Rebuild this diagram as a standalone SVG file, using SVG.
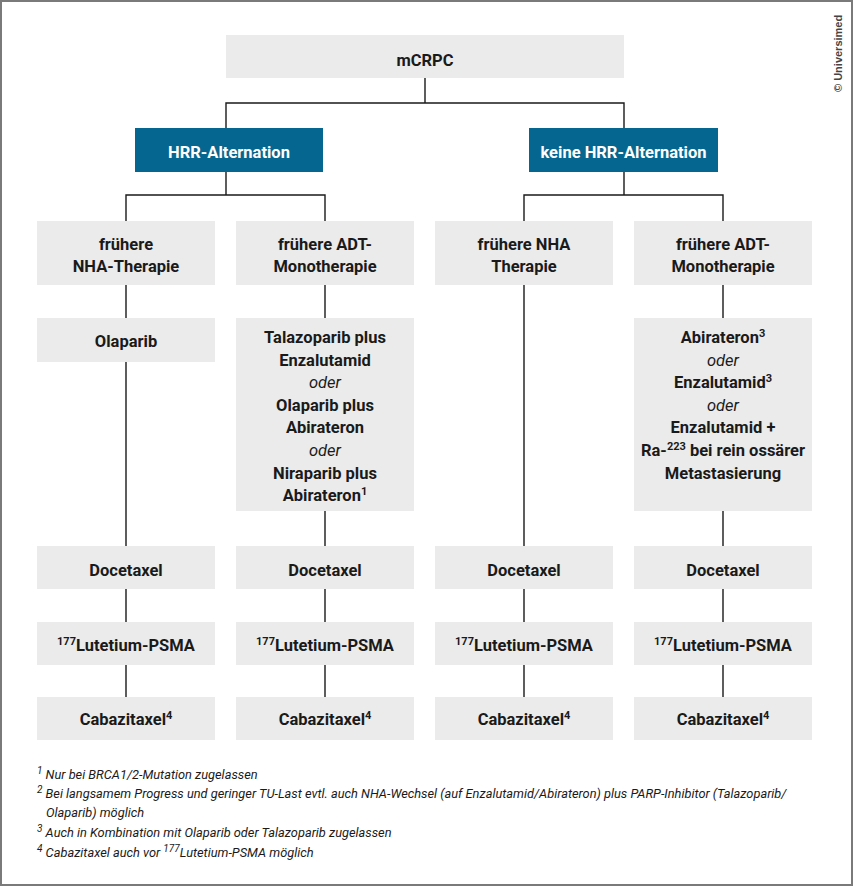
<svg xmlns="http://www.w3.org/2000/svg" width="854" height="888" viewBox="0 0 854 888">
<style>
.box{fill:#ebebeb}
.blue{fill:#05668f}
.t{font-family:Roboto,"Liberation Sans",sans-serif;font-weight:bold;font-size:16.5px;fill:#1a1a1a;text-anchor:middle}
.w{fill:#ffffff}
.i{font-weight:normal;font-style:italic}
.fn{font-family:Roboto,"Liberation Sans",sans-serif;font-style:italic;font-size:12.8px;fill:#1a1a1a}
.con{fill:none;stroke:#1a1a1a;stroke-width:1.4}
</style>
<rect x="1" y="1" width="851" height="884" fill="#ffffff" stroke="#7a7a7a" stroke-width="2"/>
<text transform="translate(842,92) rotate(-90)" font-family="'Liberation Sans',Arial,sans-serif" font-size="11" font-weight="bold" fill="#444">© Universimed</text>

<g id="connectors" class="con">
<path d="M425 78 V103 M226 128 V103 H624 V128"/>
<path d="M226 172 V195 M126 221 V195 H325 V221"/>
<path d="M624 172 V195 M524 221 V195 H723 V221"/>
<path d="M126 285 V318 M126 362 V546 M126 589 V622 M126 665 V697"/>
<path d="M325 285 V318 M325 511 V546 M325 589 V622 M325 665 V697"/>
<path d="M524 285 V546 M524 589 V622 M524 665 V697"/>
<path d="M723 285 V318 M723 511 V546 M723 589 V622 M723 665 V697"/>
</g>

<g id="mcrpc"><rect class="box" x="226" y="35" width="398" height="43"/><text class="t" x="425" y="66">mCRPC</text></g>
<g id="hrr"><rect class="blue" x="135" y="128" width="188" height="44"/><text class="t w" x="229" y="158">HRR-Alternation</text></g>
<g id="keine-hrr"><rect class="blue" x="529" y="128" width="189" height="44"/><text class="t w" x="623.5" y="158">keine HRR-Alternation</text></g>

<g id="c1-prior"><rect class="box" x="37" y="221" width="178" height="64"/><text class="t" x="126" y="250">frühere</text><text class="t" x="126" y="272">NHA-Therapie</text></g>
<g id="c2-prior"><rect class="box" x="236" y="221" width="178" height="64"/><text class="t" x="325" y="250">frühere ADT-</text><text class="t" x="325" y="272">Monotherapie</text></g>
<g id="c3-prior"><rect class="box" x="435" y="221" width="178" height="64"/><text class="t" x="524" y="250">frühere NHA</text><text class="t" x="524" y="272">Therapie</text></g>
<g id="c4-prior"><rect class="box" x="634" y="221" width="178" height="64"/><text class="t" x="723" y="250">frühere ADT-</text><text class="t" x="723" y="272">Monotherapie</text></g>

<g id="c1-therapy"><rect class="box" x="37" y="318" width="178" height="44"/><text class="t" x="126" y="347">Olaparib</text></g>
<g id="c2-therapy"><rect class="box" x="236" y="318" width="178" height="193"/>
<text class="t" x="325" y="343">Talazoparib plus</text>
<text class="t" x="325" y="365.6">Enzalutamid</text>
<text class="t i" x="325" y="388.2">oder</text>
<text class="t" x="325" y="410.8">Olaparib plus</text>
<text class="t" x="325" y="433.4">Abirateron</text>
<text class="t i" x="325" y="456">oder</text>
<text class="t" x="325" y="478.6">Niraparib plus</text>
<text class="t" x="325" y="501.2">Abirateron<tspan font-size="11" dy="-6">1</tspan></text>
</g>
<g id="c4-therapy"><rect class="box" x="634" y="318" width="178" height="193"/>
<text class="t" x="723" y="343">Abirateron<tspan font-size="11" dy="-6">3</tspan></text>
<text class="t i" x="723" y="365.6">oder</text>
<text class="t" x="723" y="388.2">Enzalutamid<tspan font-size="11" dy="-6">3</tspan></text>
<text class="t i" x="723" y="410.8">oder</text>
<text class="t" x="723" y="433.4">Enzalutamid +</text>
<text class="t" x="723" y="456">Ra-<tspan font-size="11" dy="-6">223</tspan><tspan dy="6"> bei rein ossärer</tspan></text>
<text class="t" x="723" y="478.6">Metastasierung</text>
</g>

<g id="c1-doc"><rect class="box" x="37" y="546" width="178" height="43"/><text class="t" x="126" y="576">Docetaxel</text></g>
<g id="c2-doc"><rect class="box" x="236" y="546" width="178" height="43"/><text class="t" x="325" y="576">Docetaxel</text></g>
<g id="c3-doc"><rect class="box" x="435" y="546" width="178" height="43"/><text class="t" x="524" y="576">Docetaxel</text></g>
<g id="c4-doc"><rect class="box" x="634" y="546" width="178" height="43"/><text class="t" x="723" y="576">Docetaxel</text></g>

<g id="c1-lu"><rect class="box" x="37" y="622" width="178" height="43"/><text class="t" x="126" y="651"><tspan font-size="11" dy="-6">177</tspan><tspan dy="6">Lutetium-PSMA</tspan></text></g>
<g id="c2-lu"><rect class="box" x="236" y="622" width="178" height="43"/><text class="t" x="325" y="651"><tspan font-size="11" dy="-6">177</tspan><tspan dy="6">Lutetium-PSMA</tspan></text></g>
<g id="c3-lu"><rect class="box" x="435" y="622" width="178" height="43"/><text class="t" x="524" y="651"><tspan font-size="11" dy="-6">177</tspan><tspan dy="6">Lutetium-PSMA</tspan></text></g>
<g id="c4-lu"><rect class="box" x="634" y="622" width="178" height="43"/><text class="t" x="723" y="651"><tspan font-size="11" dy="-6">177</tspan><tspan dy="6">Lutetium-PSMA</tspan></text></g>

<g id="c1-cab"><rect class="box" x="37" y="697" width="178" height="43"/><text class="t" x="126" y="725">Cabazitaxel<tspan font-size="11" dy="-6">4</tspan></text></g>
<g id="c2-cab"><rect class="box" x="236" y="697" width="178" height="43"/><text class="t" x="325" y="725">Cabazitaxel<tspan font-size="11" dy="-6">4</tspan></text></g>
<g id="c3-cab"><rect class="box" x="435" y="697" width="178" height="43"/><text class="t" x="524" y="725">Cabazitaxel<tspan font-size="11" dy="-6">4</tspan></text></g>
<g id="c4-cab"><rect class="box" x="634" y="697" width="178" height="43"/><text class="t" x="723" y="725">Cabazitaxel<tspan font-size="11" dy="-6">4</tspan></text></g>

<g id="footnotes">
<text class="fn" x="37" y="779"><tspan font-size="10" dy="-5">1</tspan><tspan dy="5"> Nur bei BRCA1/2-Mutation zugelassen</tspan></text>
<text class="fn" x="37" y="798"><tspan font-size="10" dy="-5">2</tspan><tspan dy="5"> Bei langsamem Progress und geringer TU-Last evtl. auch NHA-Wechsel (auf Enzalutamid/Abirateron) plus PARP-Inhibitor (Talazoparib/</tspan></text>
<text class="fn" x="46" y="817">Olaparib) möglich</text>
<text class="fn" x="37" y="837"><tspan font-size="10" dy="-5">3</tspan><tspan dy="5"> Auch in Kombination mit Olaparib oder Talazoparib zugelassen</tspan></text>
<text class="fn" x="37" y="857"><tspan font-size="10" dy="-5">4</tspan><tspan dy="5"> Cabazitaxel auch vor </tspan><tspan font-size="10" dy="-5">177</tspan><tspan dy="5">Lutetium-PSMA möglich</tspan></text>
</g>
</svg>
